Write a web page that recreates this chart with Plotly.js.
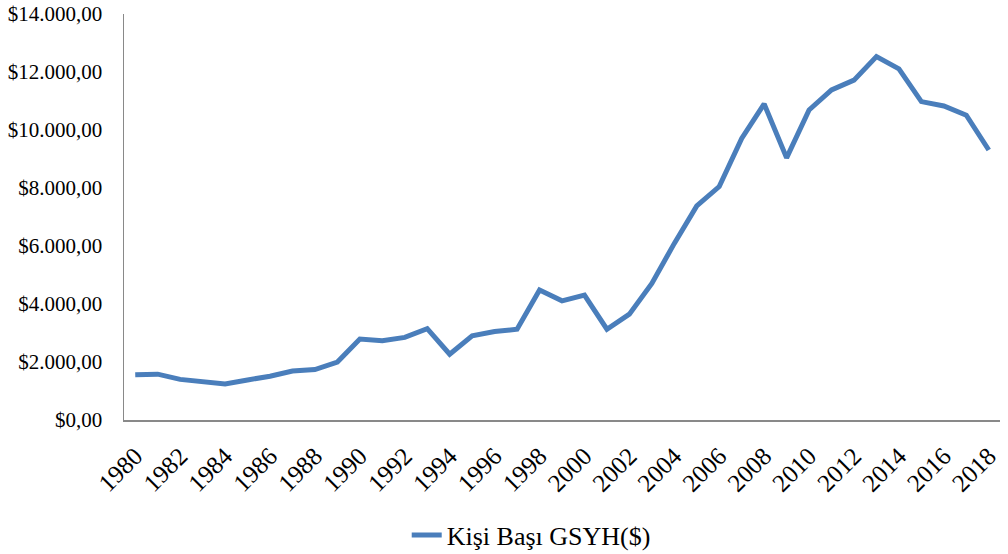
<!DOCTYPE html>
<html><head><meta charset="utf-8">
<script src="https://cdn.plot.ly/plotly-3.0.1.min.js"></script>
<style>html,body{margin:0;padding:0;background:#fff}#chart{width:1008px;height:554px}</style>
</head><body><div id="chart"></div>
<script>
const years = [1980,1981,1982,1983,1984,1985,1986,1987,1988,1989,1990,1991,1992,1993,1994,1995,1996,1997,1998,1999,2000,2001,2002,2003,2004,2005,2006,2007,2008,2009,2010,2011,2012,2013,2014,2015,2016,2017,2018];
const gdpPerCapita = [1560,1580,1400,1310,1240,1380,1510,1690,1740,2000,2790,2730,2850,3150,2270,2900,3050,3130,4480,4110,4310,3130,3650,4710,6090,7380,8050,9710,10900,9040,10690,11380,11720,12530,12110,10980,10830,10510,9310];
const tickYears = [1980,1982,1984,1986,1988,1990,1992,1994,1996,1998,2000,2002,2004,2006,2008,2010,2012,2014,2016,2018];
const yTicks = [0,2000,4000,6000,8000,10000,12000,14000];
const yTickText = ['$0,00','$2.000,00','$4.000,00','$6.000,00','$8.000,00','$10.000,00','$12.000,00','$14.000,00'];
const seriesName = 'Kişi Başı GSYH($)';

const font = 'Liberation Serif, Times New Roman, serif';
Plotly.newPlot('chart', [{
  x: years, y: gdpPerCapita, type: 'scatter', mode: 'lines', name: seriesName,
  line: {color: '#4a7ebb', width: 5}
}], {
  width: 1008, height: 554,
  margin: {l: 124, r: 8, t: 14, b: 134},
  paper_bgcolor: '#fff', plot_bgcolor: '#fff',
  font: {family: font, size: 21, color: '#000'},
  showlegend: true,
  legend: {orientation: 'h', xref: 'container', yref: 'container', x: 0.527, xanchor: 'center', y: 0.034, yanchor: 'middle', font: {size: 26, family: font}},
  xaxis: {range: [1979.5, 2018.5], tickmode: 'array', tickvals: tickYears, ticktext: tickYears.map(String), tickangle: -45,
    tickfont: {size: 25, family: font},
    showgrid: false, zeroline: false, showline: true, linecolor: '#898989', linewidth: 1.5, ticks: '', ticklabelstandoff: 10, fixedrange: true},
  yaxis: {range: [0, 14000], tickmode: 'array', tickvals: yTicks, ticktext: yTickText,
    showgrid: false, zeroline: false, showline: true, linecolor: '#898989', linewidth: 1.5, ticks: '', ticklabelstandoff: 16, fixedrange: true}
}, {displayModeBar: false, staticPlot: true});
</script></body></html>
